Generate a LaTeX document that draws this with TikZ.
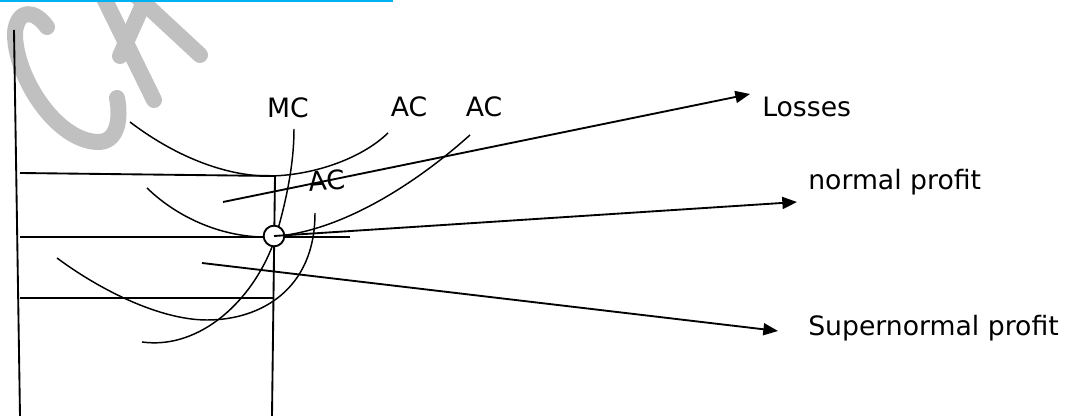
\documentclass[tikz,border=0pt]{standalone}
\usepackage{fontspec}
\setmainfont{DejaVu Sans}
\usetikzlibrary{arrows.meta}
\definecolor{markcol}{HTML}{C0C0C0}
\definecolor{rulecol}{HTML}{00B0F0}
\tikzset{
  curve/.style={draw=black, line width=1.1pt},
  guide/.style={draw=black, line width=1.4pt},
  arr/.style={-{Triangle[length=11pt, width=9pt]}, draw=black, line width=1.4pt},
  lab/.style={font=\fontsize{20}{24}\selectfont, inner sep=0pt, text=black},
  eqpt/.style={circle, draw=black, fill=white, line width=1.4pt,
    minimum size=15.5pt, inner sep=0pt},
  wmark/.style={draw=markcol, line width=12pt, line cap=round, line join=round}}

\begin{document}
\begin{tikzpicture}[x=0.75pt, y=-0.75pt]
  \useasboundingbox (0,0) rectangle (1071,416);
  % watermark
  \draw[wmark] (47,27) .. controls (35,10) and (18,8) .. (15,32)
    .. controls (14,75) and (55,140) .. (97,142)
    .. controls (118,143) and (121,118) .. (117,98);
  \draw[wmark] (100,-10) -- (154,100);
  \draw[wmark] (130,-10) -- (200,55);
  \draw[wmark] (120,56) -- (141,9);
  \draw[rulecol, line width=1.5pt] (0,1) -- (393,1);
  % axes and cost levels
  \coordinate (ytop) at (14,30);
  \coordinate (ybot) at (20,416);
  \coordinate (hiL) at (20,173);
  \coordinate (hiR) at (275,176);
  \coordinate (qbot) at (272,416);
  \coordinate (midL) at (20,237);
  \coordinate (midR) at (350,237);
  \coordinate (loL) at (20,298);
  \coordinate (loR) at (274,298);
  \draw[guide] (ytop) -- (ybot);
  \draw[guide] (hiL) -- (hiR) -- (qbot);
  \draw[guide] (midL) -- (midR);
  \draw[guide] (loL) -- (loR);
  % cost curves
  \draw[curve] (130,122) .. controls (180,160) and (230,176) .. (268,176)
    .. controls (310,176) and (360,160) .. (388,133);
  \draw[curve] (147,188) .. controls (180,220) and (225,237) .. (265,237)
    .. controls (340,235) and (420,180) .. (470,135);
  \draw[curve] (57,258) .. controls (100,290) and (160,320) .. (207,320)
    .. controls (260,320) and (315,290) .. (315,213);
  \draw[curve] (142,342) .. controls (200,350) and (255,300) .. (276,236)
    .. controls (288,195) and (294,160) .. (294,129);
  \node[eqpt] (eq) at (274,236) {};
  % labels
  \node[lab, anchor=base] (mc) at (288,118) {MC};
  \node[lab, anchor=base] (acup) at (409,117) {AC};
  \node[lab, anchor=base] (acmid) at (484,117) {AC};
  \node[lab, anchor=base, rotate=5] (aclow) at (328,190) {AC};
  \node[lab, anchor=base west] (loss) at (762,117) {Losses};
  \node[lab, anchor=base west] (normal) at (808,190) {normal profit};
  \node[lab, anchor=base west] (supern) at (808,336) {Supernormal profit};
  % arrows to the labels
  \coordinate (lossfrom) at (223,202);
  \coordinate (losstip) at (750,94);
  \coordinate (normtip) at (797,202);
  \coordinate (superfrom) at (202,263);
  \coordinate (supertip) at (778,331);
  \draw[arr] (lossfrom) -- (losstip);
  \draw[arr] (eq.center) -- (normtip);
  \draw[arr] (superfrom) -- (supertip);
\end{tikzpicture}
\end{document}
